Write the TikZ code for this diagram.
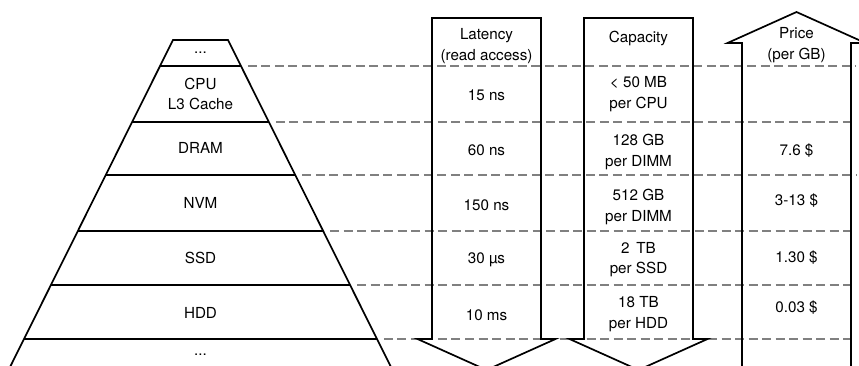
\documentclass[tikz,border=0pt]{standalone}
\usepackage{fontspec}
\setmainfont{TeX Gyre Heros}
\begin{document}
\begin{tikzpicture}[x=1pt,y=-1pt,
    outline/.style={draw=black,line width=1.7pt,line join=miter},
    sep/.style={draw=black!50,line width=1.5pt,dash pattern=on 9pt off 4.5pt},
    lbl/.style={inner sep=0pt,align=center,font=\fontsize{15.2}{20.5}\selectfont}]
\useasboundingbox (0,0) rectangle (859,365);
\clip (0,0) rectangle (859,365);

% memory pyramid: apex edge at y=40, flanks with slope 0.4983
\def\pl#1{173-0.4983*(#1-40)}
\def\pr#1{228+0.4983*(#1-40)}
\draw[outline] ({\pl{380}},380) -- (173,40) -- (228,40) -- ({\pr{380}},380);
\foreach \yy in {66,122,175,231,285,339}
  \draw[outline] ({\pl{\yy}},\yy) -- ({\pr{\yy}},\yy);

% dashed level separators
\foreach \yy in {66,122,175,231,285,339}
  \draw[sep] ({\pr{\yy}+7},\yy) -- (856,\yy);

% latency and capacity arrows (pointing down), price arrow (pointing up)
\draw[outline] (432,18) -- (541,18) -- (541,339) -- (555.5,339) -- (486.5,370)
  -- (417.5,339) -- (432,339) -- cycle;
\draw[outline] (584,18) -- (693,18) -- (693,339) -- (707.5,339) -- (638.5,370)
  -- (569.5,339) -- (584,339) -- cycle;
\draw[outline] (742,380) -- (742,43) -- (727.5,43) -- (796.5,12) -- (865.5,43)
  -- (851,43) -- (851,380);

% pyramid levels
\node[lbl] (top)  at (200.5,53)  {...};
\node[lbl] (cpu)  at (200.5,94)  {CPU\\L3 Cache};
\node[lbl] (dram) at (200.5,148) {DRAM};
\node[lbl] (nvm)  at (200.5,203) {NVM};
\node[lbl] (ssd)  at (200.5,258) {SSD};
\node[lbl] (hdd)  at (200.5,313) {HDD};
\node[lbl] (bot)  at (200.5,355) {...};

% latency column
\node[lbl] (lathead) at (486.5,46)  {Latency\\(read access)};
\node[lbl] (latcpu)  at (486.5,95)  {15 ns};
\node[lbl] (latdram) at (486.5,150) {60 ns};
\node[lbl] (latnvm)  at (486.5,205.5) {150 ns};
\node[lbl] (latssd)  at (486.5,260) {30 µs};
\node[lbl] (lathdd)  at (486.5,315) {10 ms};

% capacity column
\node[lbl] (caphead) at (638.5,38)  {Capacity};
\node[lbl] (capcpu)  at (638.5,94)  {< 50 MB\\per CPU};
\node[lbl] (capdram) at (638.5,152) {128 GB\\per DIMM};
\node[lbl] (capnvm)  at (638.5,207) {512 GB\\per DIMM};
\node[lbl] (capssd)  at (638.5,259.5) {2\, TB\\per SSD};
\node[lbl] (caphdd)  at (638.5,314) {18 TB\\per HDD};

% price column
\node[lbl] (prihead) at (796.5,45)  {Price\\(per GB)};
\node[lbl] (pridram) at (796.5,151) {7.6 \$};
\node[lbl] (prinvm)  at (796.5,201) {3-13 \$};
\node[lbl] (prissd)  at (796.5,258) {1.30 \$};
\node[lbl] (prihdd)  at (796.5,308) {0.03 \$};
\end{tikzpicture}
\end{document}
